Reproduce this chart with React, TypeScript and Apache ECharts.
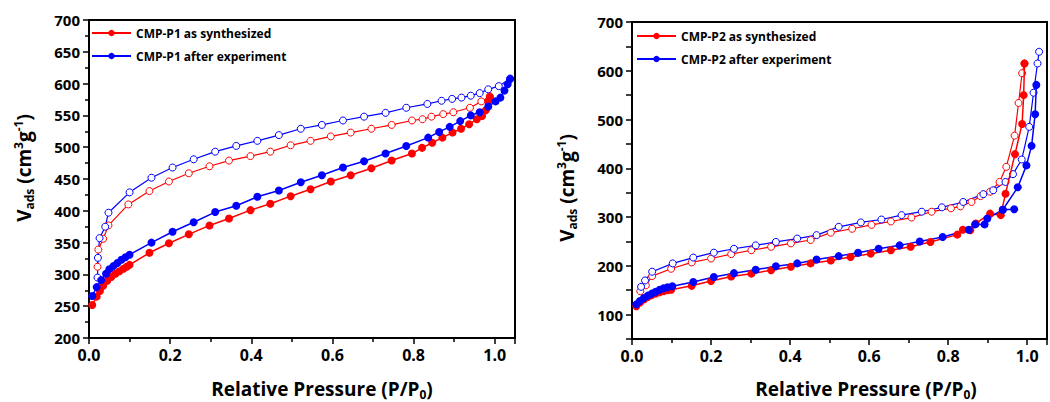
import React, { useEffect, useRef } from "react";
import * as echarts from "echarts";

// ---------- data ----------
const p1SynthAds: number[][] = [
  [0.008, 252], [0.019, 265], [0.027, 274], [0.035, 282], [0.045, 290], [0.055, 296],
  [0.065, 301], [0.075, 305], [0.085, 309], [0.093, 312], [0.1, 315], [0.149, 334],
  [0.197, 349], [0.246, 363], [0.297, 377], [0.345, 388], [0.398, 401], [0.447, 411],
  [0.497, 423], [0.546, 434], [0.596, 446], [0.645, 456], [0.696, 467], [0.746, 479],
  [0.796, 490], [0.821, 499], [0.846, 507], [0.871, 515], [0.896, 523], [0.917, 529],
  [0.937, 536], [0.956, 544], [0.969, 549], [0.978, 558], [0.984, 572], [0.988, 579],
];
const p1SynthDes: number[][] = [
  [0.988, 580], [0.967, 572], [0.939, 562], [0.898, 555], [0.873, 552], [0.844, 548],
  [0.822, 544], [0.796, 542], [0.746, 535], [0.696, 529], [0.645, 523], [0.596, 517],
  [0.546, 510], [0.497, 503], [0.447, 493], [0.398, 486], [0.345, 479], [0.297, 470],
  [0.246, 459], [0.197, 446], [0.149, 431], [0.097, 410], [0.048, 377], [0.035, 356],
  [0.023, 339], [0.021, 312],
];
const p1AfterAds: number[][] = [
  [0.008, 266], [0.019, 280], [0.03, 291], [0.042, 301], [0.05, 308], [0.06, 313],
  [0.07, 318], [0.08, 323], [0.09, 327], [0.1, 331], [0.154, 350], [0.206, 367],
  [0.258, 382], [0.311, 398], [0.363, 408], [0.415, 422], [0.468, 432], [0.522, 445],
  [0.574, 456], [0.626, 468], [0.678, 478], [0.731, 490], [0.782, 502], [0.836, 515],
  [0.863, 524], [0.889, 532], [0.915, 541], [0.941, 550], [0.963, 555], [0.984, 564],
  [1.002, 572], [1.014, 578], [1.024, 589], [1.032, 599], [1.038, 607],
];
const p1AfterDes: number[][] = [
  [1.038, 608], [1.01, 596], [0.984, 591], [0.963, 585], [0.941, 581], [0.918, 578],
  [0.895, 576], [0.869, 573], [0.834, 568], [0.782, 562], [0.731, 554], [0.678, 548],
  [0.626, 542], [0.574, 535], [0.522, 529], [0.468, 519], [0.415, 510], [0.363, 502],
  [0.311, 493], [0.258, 481], [0.206, 468], [0.154, 452], [0.1, 429], [0.048, 397],
  [0.04, 375], [0.026, 357], [0.022, 326], [0.021, 295],
];

const p2SynthAds: number[][] = [
  [0.011, 117], [0.02, 125], [0.03, 131], [0.04, 136], [0.05, 140], [0.06, 143],
  [0.07, 146], [0.08, 148], [0.09, 150], [0.099, 151], [0.151, 159], [0.2, 169],
  [0.251, 178], [0.302, 184], [0.352, 191], [0.402, 198], [0.452, 205], [0.503, 211],
  [0.553, 218], [0.604, 225], [0.655, 232], [0.705, 239], [0.755, 249], [0.823, 264],
  [0.837, 274], [0.856, 273], [0.87, 287], [0.906, 307], [0.933, 304], [0.945, 348],
  [0.969, 429], [0.987, 491], [0.991, 550], [0.993, 615],
];
const p2SynthDes: number[][] = [
  [0.993, 615], [0.987, 595], [0.978, 534], [0.968, 467], [0.947, 403], [0.93, 372],
  [0.906, 352], [0.882, 343], [0.859, 331], [0.831, 322], [0.807, 318], [0.758, 311],
  [0.707, 299], [0.655, 291], [0.606, 284], [0.557, 276], [0.503, 268], [0.452, 253],
  [0.402, 246], [0.352, 239], [0.302, 232], [0.251, 224], [0.2, 215], [0.151, 207],
  [0.099, 194], [0.051, 179], [0.035, 160], [0.021, 148],
];
const p2AfterAds: number[][] = [
  [0.011, 121], [0.02, 128], [0.03, 134], [0.04, 139], [0.05, 143], [0.06, 147],
  [0.07, 151], [0.08, 154], [0.09, 156], [0.102, 158], [0.155, 167], [0.207, 177],
  [0.258, 185], [0.313, 192], [0.364, 199], [0.418, 205], [0.467, 213], [0.523, 220],
  [0.572, 227], [0.624, 235], [0.677, 242], [0.728, 250], [0.786, 259], [0.852, 274],
  [0.868, 285], [0.892, 285], [0.899, 297], [0.938, 315], [0.976, 361], [0.998, 406],
  [1.011, 446], [1.02, 511], [1.023, 571],
];
const p2AfterAdsEnd: number[][] = [
  [0.938, 315], [0.967, 316],
];
const p2AfterDes: number[][] = [
  [1.03, 639], [1.026, 615], [1.016, 555], [1.005, 485], [0.986, 418], [0.964, 388],
  [0.945, 372], [0.914, 355], [0.889, 347], [0.838, 331], [0.784, 320], [0.733, 311],
  [0.682, 304], [0.631, 295], [0.579, 289], [0.523, 280], [0.467, 263], [0.418, 256],
  [0.364, 249], [0.313, 242], [0.258, 235], [0.207, 227], [0.155, 217], [0.103, 205],
  [0.051, 188], [0.033, 170], [0.023, 157],
];

const xTickLabels = ["0.0", "0.2", "0.4", "0.6", "0.8", "1.0"];
const legendP1 = ["CMP-P1 as synthesized", "CMP-P1 after experiment"];
const legendP2 = ["CMP-P2 as synthesized", "CMP-P2 after experiment"];

const RED = "#ff0000";
const BLUE = "#0000ff";
const FONT = '"Open Sans", Lato, sans-serif';

function filled(name: string, data: number[][], color: string, idx: number) {
  return {
    name,
    type: "line",
    xAxisIndex: idx,
    yAxisIndex: idx,
    data,
    symbol: "circle",
    symbolSize: 8,
    lineStyle: { color, width: 1.5 },
    itemStyle: { color },
    z: 3,
  };
}
function open(name: string, data: number[][], color: string, idx: number) {
  return {
    name,
    type: "line",
    xAxisIndex: idx,
    yAxisIndex: idx,
    data,
    symbol: "circle",
    symbolSize: 7,
    lineStyle: { color, width: 1.2 },
    itemStyle: { color: "#ffffff", borderColor: color, borderWidth: 1 },
    z: 2,
  };
}

function xAxis(idx: number) {
  return {
    gridIndex: idx,
    type: "value",
    min: 0,
    max: 1.05,
    interval: 0.2,
    axisLine: { show: true, onZero: false, lineStyle: { color: "#000", width: 2 } },
    axisTick: { show: true, length: 6, lineStyle: { color: "#000", width: 1.5 } },
    minorTick: { show: true, splitNumber: 2, length: 4, lineStyle: { color: "#000", width: 1.5 } },
    splitLine: { show: false },
    minorSplitLine: { show: false },
    axisLabel: {
      color: "#000",
      fontFamily: FONT,
      fontWeight: "bold",
      fontSize: 16,
      margin: 9,
      formatter: (v: number) => {
        const k = Math.round(v / 0.2);
        return Math.abs(v - k * 0.2) < 1e-6 && k < xTickLabels.length ? xTickLabels[k] : "";
      },
    },
  };
}

function yAxis(idx: number, min: number, max: number, interval: number, labelStep: number, minor: boolean) {
  return {
    gridIndex: idx,
    type: "value",
    min,
    max,
    interval,
    axisLine: { show: true, onZero: false, lineStyle: { color: "#000", width: 2 } },
    axisTick: { show: true, length: 6, lineStyle: { color: "#000", width: 1.5 } },
    minorTick: { show: minor, splitNumber: 2, length: 4, lineStyle: { color: "#000", width: 1.5 } },
    splitLine: { show: false },
    minorSplitLine: { show: false },
    axisLabel: {
      color: "#000",
      fontFamily: FONT,
      fontWeight: "bold",
      fontSize: 15,
      margin: 9,
      formatter: (v: number) => (Math.round(v) % labelStep === 0 ? String(Math.round(v)) : ""),
    },
  };
}

function legend(data: string[], left: number, top: number) {
  return {
    data,
    orient: "vertical",
    left,
    top,
    itemWidth: 39,
    itemHeight: 8,
    itemGap: 11,
    textStyle: { color: "#000", fontFamily: FONT, fontWeight: "bold", fontSize: 12 },
  };
}

const titleRich = {
  b: { fontFamily: FONT, fontWeight: "bold", fontSize: 19, color: "#000" },
  sub: { fontFamily: FONT, fontWeight: "bold", fontSize: 12, color: "#000", padding: [11, 0, 0, 0] },
  sup: { fontFamily: FONT, fontWeight: "bold", fontSize: 12, color: "#000", padding: [0, 0, 11, 0] },
};

function xTitle(cx: number, cy: number) {
  return {
    type: "text",
    x: cx,
    y: cy,
    style: {
      text: "{b|Relative Pressure (P/P}{sub|0}{b|)}",
      rich: titleRich,
      align: "center",
      verticalAlign: "middle",
    },
  };
}
function yTitle(cx: number, cy: number) {
  return {
    type: "text",
    x: cx,
    y: cy,
    rotation: Math.PI / 2,
    style: {
      text: "{b|V}{sub|ads}{b| (cm}{sup|3}{b|g}{sup|-1}{b|)}",
      rich: titleRich,
      align: "center",
      verticalAlign: "middle",
    },
  };
}

export default function App() {
  const ref = useRef<HTMLDivElement>(null);
  useEffect(() => {
    if (!ref.current) return;
    const chart = echarts.init(ref.current, undefined, { renderer: "svg" });
    chart.setOption({
      animation: false,
      backgroundColor: "#ffffff",
      grid: [
        { left: 89, top: 20, width: 426, height: 318, show: true, borderColor: "#000", borderWidth: 2, backgroundColor: "transparent" },
        { left: 632, top: 22, width: 423, height: 317, show: true, borderColor: "#000", borderWidth: 2, backgroundColor: "transparent" },
      ],
      xAxis: [xAxis(0), xAxis(1)],
      yAxis: [yAxis(0, 200, 700, 50, 50, true), yAxis(1, 50, 700, 50, 100, false)],
      legend: [legend(legendP1, 86, 22), legend(legendP2, 631, 25)],
      series: [
        filled(legendP1[0], p1SynthAds, RED, 0),
        open(legendP1[0] + " desorption", p1SynthDes, RED, 0),
        filled(legendP1[1], p1AfterAds, BLUE, 0),
        open(legendP1[1] + " desorption", p1AfterDes, BLUE, 0),
        filled(legendP2[0], p2SynthAds, RED, 1),
        open(legendP2[0] + " desorption", p2SynthDes, RED, 1),
        filled(legendP2[1], p2AfterAds, BLUE, 1),
        filled(legendP2[1] + " end", p2AfterAdsEnd, BLUE, 1),
        open(legendP2[1] + " desorption", p2AfterDes, BLUE, 1),
      ],
      graphic: [xTitle(322, 389), yTitle(24, 168), xTitle(866, 389), yTitle(567, 188)],
    });
    return () => chart.dispose();
  }, []);
  return <div ref={ref} style={{ position: "absolute", left: 0, top: 0, width: 1050, height: 402 }} />;
}
